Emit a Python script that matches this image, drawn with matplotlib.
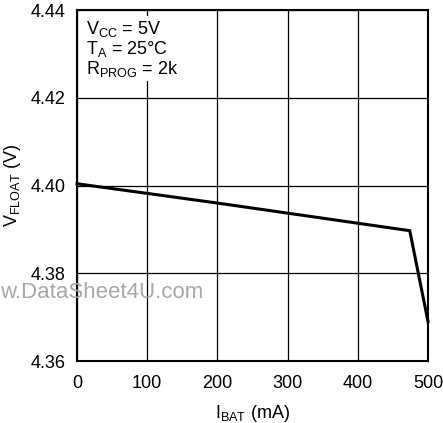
import matplotlib
matplotlib.use("Agg")
import matplotlib.pyplot as plt
from matplotlib import font_manager

names = {f.name for f in font_manager.fontManager.ttflist}
fam = "Liberation Sans Narrow" if "Liberation Sans Narrow" in names else "Liberation Sans"
plt.rcParams['font.family'] = [fam, 'DejaVu Sans']
plt.rcParams['mathtext.fontset'] = 'custom'
plt.rcParams['mathtext.rm'] = fam
plt.rcParams['mathtext.it'] = fam

# data
i_bat = [0, 100, 200, 300, 400, 474, 500]
v_float = [4.4004, 4.3982, 4.3960, 4.3937, 4.3914, 4.3897, 4.3690]
x_ticks = [0, 100, 200, 300, 400, 500]
y_ticks = [4.36, 4.38, 4.40, 4.42, 4.44]
y_tick_labels = ["4.36", "4.38", "4.40", "4.42", "4.44"]

fig = plt.figure(figsize=(4.43, 4.23), dpi=100)
ax = fig.add_axes([77/443, 62/423, 351/443, 351/423])
ax.plot(i_bat, v_float, color='black', lw=2.2, solid_joinstyle='miter', clip_on=False, zorder=3)
ax.set_xlim(0, 500)
ax.set_ylim(4.36, 4.44)
ax.set_xticks(x_ticks)
ax.set_yticks(y_ticks)
ax.set_yticklabels(y_tick_labels)
ax.grid(True, color='black', lw=0.9)
ax.tick_params(length=0, labelsize=13, pad=8)
ax.tick_params(axis='x', pad=10)
for s in ax.spines.values():
    s.set_linewidth(1.5)

ax.set_xlabel(r"I$_{\mathregular{BAT}}$ (mA)", fontsize=13, labelpad=8)
ax.set_ylabel(r"V$_{\mathregular{FLOAT}}$ (V)", fontsize=13, labelpad=6)

ax.text(0.025, 0.975, "V$_{\\mathregular{CC}}$ = 5V\nT$_{\\mathregular{A}}$ = 25°C\nR$_{\\mathregular{PROG}}$ = 2k",
        transform=ax.transAxes, ha='left', va='top', fontsize=13, linespacing=1.0,
        bbox=dict(facecolor='white', edgecolor='none', pad=2))

fig.text(0.0, 1 - 293/423, "w.DataSheet4U.com", fontsize=16, color='#a8a8a8',
         ha='left', va='center', family=['Liberation Sans', 'DejaVu Sans'])

fig.savefig("out.png", dpi=100)
